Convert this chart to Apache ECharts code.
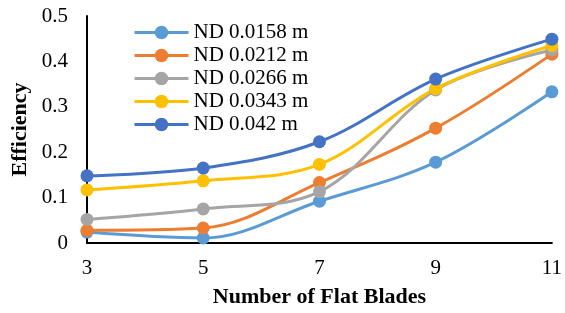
<!DOCTYPE html>
<html lang="en">
<head>
    <meta charset="UTF-8">
    <script src="https://cdn.jsdelivr.net/npm/echarts@6/dist/echarts.min.js"></script>
    <style>
        html,body{height:100%;width:100%;margin:0;padding:0;background:#fff;}
    </style>
</head>
<body>
    <div id="main" style="width:565px;height:313px"></div>
    <script>
        var blades = ['3', '5', '7', '9', '11'];
        var names = ['ND 0.0158 m', 'ND 0.0212 m', 'ND 0.0266 m', 'ND 0.0343 m', 'ND 0.042 m'];
        var nd0158 = [0.024, 0.011, 0.092, 0.178, 0.333];
        var nd0212 = [0.028, 0.033, 0.133, 0.253, 0.416];
        var nd0266 = [0.052, 0.075, 0.113, 0.337, 0.425];
        var nd0343 = [0.117, 0.137, 0.173, 0.340, 0.435];
        var nd042 = [0.148, 0.165, 0.223, 0.361, 0.449];
        var colors = ['#5B9BD5', '#ED7D31', '#A5A5A5', '#FFC000', '#4472C4'];
        var allData = [nd0158, nd0212, nd0266, nd0343, nd042];

        var serif = '"Liberation Serif", "DejaVu Serif", serif';
        var myChart = echarts.init(document.getElementById('main'));
        var series = allData.map(function (d, i) {
            return {
                name: names[i],
                type: 'line',
                smooth: 0.35,
                data: d,
                symbol: 'circle',
                symbolSize: 13,
                itemStyle: { color: colors[i] },
                lineStyle: { width: 3, color: colors[i] },
                animation: false
            };
        });
        var option = {
            color: colors,
            legend: {
                orient: 'vertical',
                left: 128,
                top: 17,
                itemWidth: 54,
                itemHeight: 17,
                itemGap: 2,
                data: names,
                lineStyle: { width: 3 },
                textStyle: { fontFamily: serif, fontSize: 21, color: '#000' }
            },
            grid: { left: 87, right: 9, top: 16, bottom: 70 },
            xAxis: {
                type: 'category',
                data: blades,
                boundaryGap: false,
                name: 'Number of Flat Blades',
                nameLocation: 'middle',
                nameGap: 43,
                nameTextStyle: { fontFamily: serif, fontSize: 22, fontWeight: 'bold', color: '#000' },
                axisLine: { lineStyle: { color: '#000', width: 2 } },
                axisTick: { show: false },
                axisLabel: { fontFamily: serif, fontSize: 21, color: '#000', margin: 15 },
                splitLine: { show: false }
            },
            yAxis: {
                type: 'value',
                min: 0,
                max: 0.5,
                interval: 0.1,
                name: 'Efficiency',
                nameLocation: 'middle',
                nameGap: 46,
                nameTextStyle: { fontFamily: serif, fontSize: 22, fontWeight: 'bold', color: '#000' },
                axisLine: { show: true, lineStyle: { color: '#000', width: 2 } },
                axisTick: { show: false },
                axisLabel: { fontFamily: serif, fontSize: 21, color: '#000', margin: 19 },
                splitLine: { show: false }
            },
            series: series
        };
        myChart.setOption(option);
    </script>
</body>
</html>
